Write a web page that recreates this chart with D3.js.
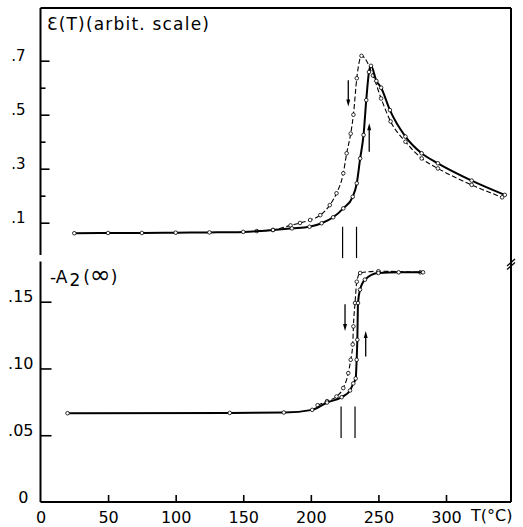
<!DOCTYPE html>
<html lang="en">
    <head>
        <meta charset="utf-8">
        <title>Epsilon and A2 vs T</title>
        <script src="https://d3js.org/d3.v7.min.js"></script>
        <style type="text/css">
            body { margin: 0; background: white; }

            .axis path { display: none; }
            .axis line { stroke: black; stroke-width: 1.6px; }
            .axis text {
                font-family: "DejaVu Sans", sans-serif;
                fill: black;
            }
            .frame { stroke: black; stroke-width: 2px; fill: none; }
            .heat { fill: none; stroke: black; stroke-width: 2px; }
            .cool { fill: none; stroke: black; stroke-width: 1.1px; stroke-dasharray: 5,2.5; }
            .dot { fill: white; stroke: black; stroke-width: 0.8px; }
            .label { font-family: "DejaVu Sans", sans-serif; font-size: 17px; fill: black; }
        </style>
    </head>
    <body>
        <script type="text/javascript">

            const w = 523;
            const h = 527;

            // upper panel: epsilon(T), heating (solid) and cooling (dashed)
            const epsHeatT = [25, 50, 75, 100, 125, 150, 172, 186, 199, 208, 216.5, 224, 231, 234, 236.5, 239, 241, 243, 244.5, 248.5, 252, 258.5, 270, 282, 294, 319, 343.5];
            const epsHeatV = [0.061, 0.062, 0.062, 0.063, 0.064, 0.066, 0.073, 0.079, 0.085, 0.098, 0.12, 0.153, 0.196, 0.246, 0.338, 0.425, 0.554, 0.658, 0.681, 0.625, 0.6, 0.517, 0.419, 0.357, 0.32, 0.256, 0.203];
            const epsCoolT = [160, 172, 185, 192, 199.5, 207, 214, 219, 224, 226.5, 229.5, 231.5, 234, 237.5, 246, 252, 259, 270, 282, 294, 319, 341.5];
            const epsCoolV = [0.069, 0.073, 0.09, 0.099, 0.11, 0.128, 0.165, 0.209, 0.283, 0.357, 0.43, 0.5, 0.635, 0.718, 0.645, 0.56, 0.475, 0.4, 0.338, 0.301, 0.24, 0.194];

            // lower panel: -A2(inf)
            const a2HeatT = [20, 140, 180, 201, 212, 222.8, 229, 231.4, 233.2, 233.9, 234.4, 234.9, 236.4, 240, 250, 265, 283];
            const a2HeatV = [0.0665, 0.0667, 0.067, 0.069, 0.0745, 0.0785, 0.0835, 0.0888, 0.0925, 0.1065, 0.1215, 0.149, 0.159, 0.1665, 0.1715, 0.172, 0.172];
            const a2CoolT = [205, 212, 219, 224, 227.7, 229.5, 231, 231.5, 232.7, 234, 236.5, 250, 281];
            const a2CoolV = [0.0725, 0.0755, 0.079, 0.0853, 0.0965, 0.1065, 0.118, 0.1315, 0.149, 0.165, 0.1715, 0.1728, 0.172];

            // transition markers (vertical strokes) and arrows
            const transT = [223.5, 233.8];
            const transTopV = [0.085, -0.031];
            const transBotV = [0.0715, 0.048];
            const arrowsTop = [{t: 227.7, from: 0.628, to: 0.53}, {t: 243.2, from: 0.363, to: 0.468}];
            const arrowsBot = [{t: 225.3, from: 0.148, to: 0.128}, {t: 240.6, from: 0.109, to: 0.128}];

            // tick values
            const xTicks = [0, 50, 100, 150, 200, 250, 300];
            const topMajor = [0.1, 0.3, 0.5, 0.7];
            const topMinor = [0.2, 0.4, 0.6];
            const botTicks = [0, 0.05, 0.10, 0.15];
            const botLabels = ["0", ".05", ".10", ".15"];

            const zip = (a, b) => a.map((t, i) => ({t: t, v: b[i]}));

            const xScale = d3.scaleLinear().domain([0, 300]).range([40.5, 446]);
            const yTop = d3.scaleLinear().domain([0.1, 0.7]).range([222.7, 60.7]);
            const yBot = d3.scaleLinear().domain([0, 0.15]).range([502, 301.7]);

            const svg = d3.select("body")
                .append("svg")
                .attr("width", w)
                .attr("height", h);

            //frame
            const x0 = xScale(0), x1 = 511, yT = 8, yB = yBot(0);
            svg.append("line").attr("class", "frame").attr("x1", x0).attr("x2", x1).attr("y1", yT).attr("y2", yT);
            svg.append("line").attr("class", "frame").attr("x1", x1).attr("x2", x1).attr("y1", yT).attr("y2", yB);
            svg.append("line").attr("class", "frame").attr("x1", x0).attr("x2", x1).attr("y1", yB).attr("y2", yB);
            svg.append("line").attr("class", "frame").attr("x1", x0).attr("x2", x0).attr("y1", yT).attr("y2", 255);
            svg.append("line").attr("class", "frame").attr("x1", x0).attr("x2", x0).attr("y1", 261.5).attr("y2", yB);
            // break marks on right border
            [0, 3.5].forEach(o => {
                svg.append("line").attr("class", "frame").style("stroke-width", "1.2px")
                    .attr("x1", x1 - 4).attr("y1", 266 + o).attr("x2", x1 + 4).attr("y2", 259 + o);
            });

            //bottom axis
            const bottomAxis = d3.axisBottom(xScale)
                .tickValues(xTicks)
                .tickSizeInner(-7)
                .tickSizeOuter(0)
                .tickPadding(10)
                .tickFormat(d3.format("d"));
            const bx = svg.append("g")
                .attr("class", "axis")
                .attr("transform", "translate(0," + yB + ")")
                .call(bottomAxis);
            bx.selectAll("text").style("font-size", "16px");
            bx.selectAll(".tick").filter(d => d === 0).select("line").remove();

            svg.append("text")
                .attr("class", "label")
                .style("font-size", "16px")
                .attr("x", 471)
                .attr("y", 521)
                .text("T(°C)");

            //upper left axis
            const topAxis = d3.axisLeft(yTop)
                .tickValues(topMajor)
                .tickSizeInner(-9)
                .tickSizeOuter(0)
                .tickPadding(15)
                .tickFormat(d => d3.format(".1f")(d).replace("0.", "."));
            const ta = svg.append("g")
                .attr("class", "axis")
                .attr("transform", "translate(" + x0 + ",0)")
                .call(topAxis);
            ta.selectAll("text").style("font-size", "15px").attr("dy", "0em");

            svg.append("g")
                .attr("class", "axis")
                .attr("transform", "translate(" + x0 + ",0)")
                .call(d3.axisLeft(yTop).tickValues(topMinor).tickSizeInner(-5).tickSizeOuter(0).tickFormat(""));

            //lower left axis
            const botAxis = d3.axisLeft(yBot)
                .tickValues(botTicks)
                .tickSizeInner(-11)
                .tickSizeOuter(0)
                .tickPadding(7)
                .tickFormat((d, i) => botLabels[i]);
            const ba = svg.append("g")
                .attr("class", "axis")
                .attr("transform", "translate(" + x0 + ",0)")
                .call(botAxis);
            ba.selectAll("text").style("font-size", "16px").attr("dy", "0em");
            ba.selectAll(".tick").filter(d => d === 0).select("line").remove();
            ba.selectAll(".tick").filter(d => d === 0).select("text").attr("x", -12);

            //panel titles
            svg.append("text")
                .attr("class", "label")
                .attr("x", 47)
                .attr("y", 30)
                .style("letter-spacing", "1.2px")
                .text("Ɛ(T)(arbit. scale)");

            const a2 = svg.append("text")
                .attr("class", "label")
                .attr("x", 50)
                .attr("y", 283);
            a2.append("tspan").text("-A");
            a2.append("tspan").attr("dy", 3).attr("dx", 2).text("2");
            a2.append("tspan").attr("dy", -3).attr("dx", 3).text("(");
            a2.append("tspan").style("font-size", "25px").text("∞");
            a2.append("tspan").text(")");

            //curves
            function drawCurve(data, yScale, cls) {
                const line = d3.line()
                    .x(d => xScale(d.t))
                    .y(d => yScale(d.v))
                    .curve(d3.curveMonotoneX);
                svg.append("path")
                    .datum(data)
                    .attr("class", cls)
                    .attr("d", line);
                svg.append("g")
                    .selectAll("circle")
                    .data(data)
                    .join("circle")
                    .attr("class", "dot")
                    .attr("cx", d => xScale(d.t))
                    .attr("cy", d => yScale(d.v))
                    .attr("r", 1.8);
            }

            drawCurve(zip(epsCoolT, epsCoolV), yTop, "cool");
            drawCurve(zip(epsHeatT, epsHeatV), yTop, "heat");
            drawCurve(zip(a2CoolT, a2CoolV), yBot, "cool");
            drawCurve(zip(a2HeatT, a2HeatV), yBot, "heat");

            //transition strokes
            transT.forEach(t => {
                svg.append("line").attr("stroke", "black").attr("stroke-width", 1.2)
                    .attr("x1", xScale(t)).attr("x2", xScale(t))
                    .attr("y1", yTop(transTopV[0])).attr("y2", yTop(transTopV[1]));
                svg.append("line").attr("stroke", "black").attr("stroke-width", 1.2)
                    .attr("x1", xScale(t) - 1.5).attr("x2", xScale(t) - 1.5)
                    .attr("y1", yBot(transBotV[0])).attr("y2", yBot(transBotV[1]));
            });

            //arrows
            function drawArrow(a, yScale) {
                const x = xScale(a.t);
                const yf = yScale(a.from), yt = yScale(a.to);
                const dir = yt > yf ? 1 : -1;
                svg.append("line").attr("stroke", "black").attr("stroke-width", 1.3)
                    .attr("x1", x).attr("x2", x).attr("y1", yf).attr("y2", yt - dir * 4);
                svg.append("path").attr("fill", "black")
                    .attr("d", "M" + (x - 2) + "," + (yt - dir * 7) + "L" + (x + 2) + "," + (yt - dir * 7) + "L" + x + "," + yt + "Z");
            }
            arrowsTop.forEach(a => drawArrow(a, yTop));
            arrowsBot.forEach(a => drawArrow(a, yBot));

        </script>
    </body>
</html>
